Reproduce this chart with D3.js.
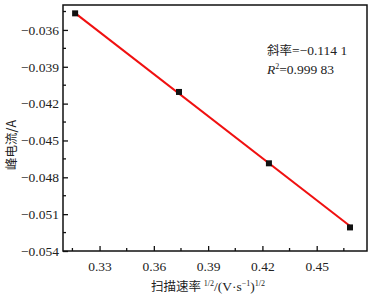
<!DOCTYPE html>
<html>
<head>
<meta charset="utf-8">
<script src="https://cdn.jsdelivr.net/npm/d3@7"></script>
<style>
body { margin: 0; background: #fff; }
svg text { font-family: "Liberation Serif", "DejaVu Serif", serif !important; fill: #222; }
svg text.cjk, svg tspan.cjk { font-family: "Noto Sans CJK SC", sans-serif !important; }
</style>
</head>
<body>
<svg id="chart" width="376" height="298"></svg>
<script>
// data
var scan_rate = [0.3165, 0.3739, 0.4236, 0.4684];   // (V/s)^1/2
var peak_current = [-0.03465, -0.04105, -0.04686, -0.05208]; // A
var fit_slope = -0.1141, fit_intercept = 0.00148;
var x_ticks = [0.33, 0.36, 0.39, 0.42, 0.45];
var y_ticks = [-0.036, -0.039, -0.042, -0.045, -0.048, -0.051, -0.054];

var svg = d3.select('#chart');
var plot_l = 63, plot_r = 367, plot_t = 5, plot_b = 251;

var x = d3.scaleLinear().domain([0.3098, 0.4778]).range([plot_l, plot_r]);
var y = d3.scaleLinear().domain([-0.054, -0.03397]).range([plot_b, plot_t]);

var fmt = d => d3.format('.3f')(d).replace('-', '\u2212');
var fmt2 = d => d3.format('.2f')(d);

// minor ticks
var x_minor = d3.range(0.315, 0.478, 0.03);
var y_minor = d3.range(-0.0525, -0.034, 0.003);

svg.append('g').selectAll('line').data(x_minor).enter().append('line')
	.attr('x1', d => x(d)).attr('x2', d => x(d))
	.attr('y1', plot_b).attr('y2', plot_b - 3)
	.attr('stroke', '#111').attr('stroke-width', 1.3);
svg.append('g').selectAll('line').data(y_minor).enter().append('line')
	.attr('x1', plot_l).attr('x2', plot_l + 3)
	.attr('y1', d => y(d)).attr('y2', d => y(d))
	.attr('stroke', '#111').attr('stroke-width', 1.3);

var xAxis = svg.append('g').attr('transform', 'translate(0,' + plot_b + ')')
	.call(d3.axisBottom(x).tickValues(x_ticks).tickFormat(fmt2).tickSizeInner(-5).tickSizeOuter(0).tickPadding(10));
var yAxis = svg.append('g').attr('transform', 'translate(' + plot_l + ',0)')
	.call(d3.axisLeft(y).tickValues(y_ticks).tickFormat(fmt).tickSizeInner(-5).tickSizeOuter(0).tickPadding(4));
[xAxis, yAxis].forEach(function(a) {
	a.attr('font-family', null).attr('font-size', 13.5);
	a.select('.domain').remove();
	a.selectAll('line').attr('stroke', '#111').attr('stroke-width', 1.3);
	a.selectAll('text').attr('fill', '#222');
});

svg.append('rect').attr('x', plot_l).attr('y', plot_t)
	.attr('width', plot_r - plot_l).attr('height', plot_b - plot_t)
	.attr('fill', 'none').attr('stroke', '#111').attr('stroke-width', 1.5);

// fit line
var x0 = d3.min(scan_rate), x1 = d3.max(scan_rate);
svg.append('line')
	.attr('x1', x(x0)).attr('y1', y(fit_slope * x0 + fit_intercept))
	.attr('x2', x(x1)).attr('y2', y(fit_slope * x1 + fit_intercept))
	.attr('stroke', '#f01010').attr('stroke-width', 2);

svg.selectAll('rect.pt').data(scan_rate).enter().append('rect')
	.attr('class', 'pt')
	.attr('x', d => x(d) - 3).attr('y', (d, i) => y(peak_current[i]) - 3)
	.attr('width', 6).attr('height', 6).attr('fill', '#111');

// annotation
var t1 = svg.append('text').attr('x', 267).attr('y', 55).attr('font-size', 13.5);
t1.append('tspan').attr('class', 'cjk').attr('font-size', 12.5).text('斜率');
t1.append('tspan').text('=\u22120.114 1');
var t2 = svg.append('text').attr('x', 267).attr('y', 74).attr('font-size', 13.5);
t2.append('tspan').attr('font-style', 'italic').text('R');
t2.append('tspan').attr('font-size', 8).attr('dy', -5).text('2');
t2.append('tspan').attr('dy', 5).text('=0.999 83');

// axis titles
svg.append('text').attr('class', 'cjk')
	.attr('transform', 'translate(16,145) rotate(-90)')
	.attr('text-anchor', 'middle').attr('font-size', 12.5)
	.text('峰电流/A');

var xt = svg.append('text').attr('x', 208).attr('y', 291).attr('text-anchor', 'middle').attr('font-size', 13.5);
xt.append('tspan').attr('class', 'cjk').attr('font-size', 12.5).text('扫描速率 ');
xt.append('tspan').attr('font-size', 8).attr('dy', -5).text('1/2');
xt.append('tspan').attr('dy', 5).text('/(V\u00b7s');
xt.append('tspan').attr('font-size', 8).attr('dy', -5).text('\u22121');
xt.append('tspan').attr('dy', 5).text(')');
xt.append('tspan').attr('font-size', 8).attr('dy', -5).text('1/2');
</script>
</body>
</html>
